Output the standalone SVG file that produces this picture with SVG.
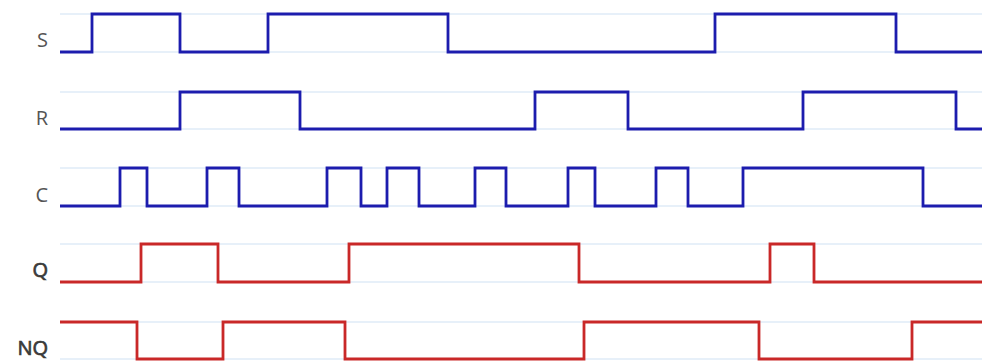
<svg xmlns="http://www.w3.org/2000/svg" width="982" height="362" viewBox="0 0 982 362">
<style>
.grid{stroke:#cfe2f3;stroke-width:1.2;fill:none}
.blue{stroke:#1c1cae;stroke-width:2.8;fill:none;stroke-linejoin:miter}
.red{stroke:#c92828;stroke-width:2.8;fill:none;stroke-linejoin:miter}
.lbl{font-family:"Open Sans","DejaVu Sans",sans-serif;font-size:20px;fill:#555;text-anchor:end}
.lblb{font-family:"Open Sans","DejaVu Sans",sans-serif;font-size:20px;fill:#3a3a3a;stroke:#3a3a3a;stroke-width:0.7;text-anchor:end}
</style>
<rect width="982" height="362" fill="#ffffff"/>
<g id="gridlines">
<line class="grid" x1="60" y1="14" x2="982" y2="14"/>
<line class="grid" x1="60" y1="52" x2="982" y2="52"/>
<line class="grid" x1="60" y1="92" x2="982" y2="92"/>
<line class="grid" x1="60" y1="129" x2="982" y2="129"/>
<line class="grid" x1="60" y1="168" x2="982" y2="168"/>
<line class="grid" x1="60" y1="206" x2="982" y2="206"/>
<line class="grid" x1="60" y1="244" x2="982" y2="244"/>
<line class="grid" x1="60" y1="282" x2="982" y2="282"/>
<line class="grid" x1="60" y1="322" x2="982" y2="322"/>
<line class="grid" x1="60" y1="359" x2="982" y2="359"/>
</g>
<g id="S">
<text class="lbl" x="48" y="47">S</text>
<path class="blue" d="M60 52H92V14H180V52H268V14H448V52H715V14H896V52H982"/>
</g>
<g id="R">
<text class="lbl" x="48" y="125">R</text>
<path class="blue" d="M60 129H180V92H300V129H535V92H628V129H803V92H956V129H982"/>
</g>
<g id="C">
<text class="lbl" x="48" y="202">C</text>
<path class="blue" d="M60 206H120V168H147V206H207V168H239V206H327V168H361V206H387V168H419V206H475V168H506V206H568V168H595V206H656V168H688V206H743V168H923V206H982"/>
</g>
<g id="Q">
<text class="lblb" x="48" y="277">Q</text>
<path class="red" d="M60 282H141V244H218V282H349V244H579V282H770V244H814V282H982"/>
</g>
<g id="NQ">
<text class="lblb" x="48" y="355">NQ</text>
<path class="red" d="M60 322H137V359H223V322H345V359H584V322H759V359H912V322H982"/>
</g>
</svg>
